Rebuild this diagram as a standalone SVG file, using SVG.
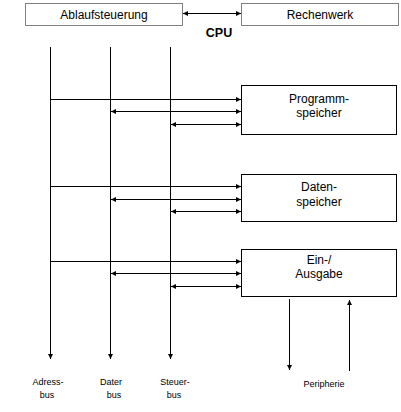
<svg xmlns="http://www.w3.org/2000/svg" width="401" height="412" viewBox="0 0 401 412">
<style>
text{font-family:"Liberation Sans",Arial,sans-serif;fill:#000}
.t{font-size:12px;text-anchor:middle}
.s{font-size:9px;text-anchor:middle}
.dot{fill:#fff;stroke:#000;stroke-width:1;stroke-dasharray:1,1}
.box{fill:#fff;stroke:#000;stroke-width:1}
.c line{stroke:#000;stroke-width:1}
.e{marker-end:url(#ah)}
.b{marker-start:url(#ah);marker-end:url(#ah)}
</style>
<defs>
<marker id="ah" viewBox="0 0 5 5" refX="5" refY="2.5" markerWidth="5" markerHeight="5" markerUnits="userSpaceOnUse" orient="auto-start-reverse">
<path d="M0,0 L5,2.5 L0,5 z" fill="#000"/>
</marker>
</defs>
<rect width="401" height="412" fill="#fff"/>
<g id="ablauf"><rect class="dot" x="25.5" y="3.5" width="157" height="22"/><text class="t" x="104" y="19">Ablaufsteuerung</text></g>
<g id="rechenwerk"><rect class="dot" x="241.5" y="3.5" width="157" height="22"/><text class="t" x="320" y="19">Rechenwerk</text></g>
<g id="cpu"><text x="219" y="37" style="font-size:12.5px;font-weight:bold;text-anchor:middle">CPU</text></g>
<g id="programm"><rect class="box" x="241.5" y="85.5" width="155" height="49"/><text class="t" x="319" y="103">Programm-</text><text class="t" x="319" y="117">speicher</text></g>
<g id="daten"><rect class="box" x="241.5" y="174.5" width="155" height="47"/><text class="t" x="319" y="191">Daten-</text><text class="t" x="319" y="206">speicher</text></g>
<g id="io"><rect class="box" x="241.5" y="249.5" width="155" height="47"/><text class="t" x="319" y="264">Ein-/</text><text class="t" x="319" y="278">Ausgabe</text></g>
<g id="labels">
<text class="s" x="48" y="385">Adress-</text><text class="s" x="47" y="398">bus</text>
<text class="s" x="111" y="385">Dater</text><text class="s" x="114" y="398">bus</text>
<text class="s" x="175" y="385">Steuer-</text><text class="s" x="174" y="398">bus</text>
<text class="s" x="324" y="387">Peripherie</text>
</g>
<g id="connectors" class="c">
<line class="b" x1="183" y1="13.5" x2="241" y2="13.5"/>
<line class="e" x1="50.5" y1="47" x2="50.5" y2="359"/>
<line class="e" x1="110.5" y1="47" x2="110.5" y2="359"/>
<line class="e" x1="170.5" y1="47" x2="170.5" y2="359"/>
<line class="e" x1="50" y1="99.5" x2="241" y2="99.5"/>
<line class="b" x1="111" y1="111.5" x2="241" y2="111.5"/>
<line class="b" x1="171" y1="124.5" x2="241" y2="124.5"/>
<line class="e" x1="50" y1="186.5" x2="241" y2="186.5"/>
<line class="b" x1="111" y1="199.5" x2="241" y2="199.5"/>
<line class="b" x1="171" y1="211.5" x2="241" y2="211.5"/>
<line class="e" x1="50" y1="261.5" x2="241" y2="261.5"/>
<line class="b" x1="111" y1="273.5" x2="241" y2="273.5"/>
<line class="b" x1="171" y1="286.5" x2="241" y2="286.5"/>
<line class="e" x1="289.5" y1="299" x2="289.5" y2="370"/>
<line class="e" x1="349.5" y1="371" x2="349.5" y2="300"/>
</g>
</svg>
